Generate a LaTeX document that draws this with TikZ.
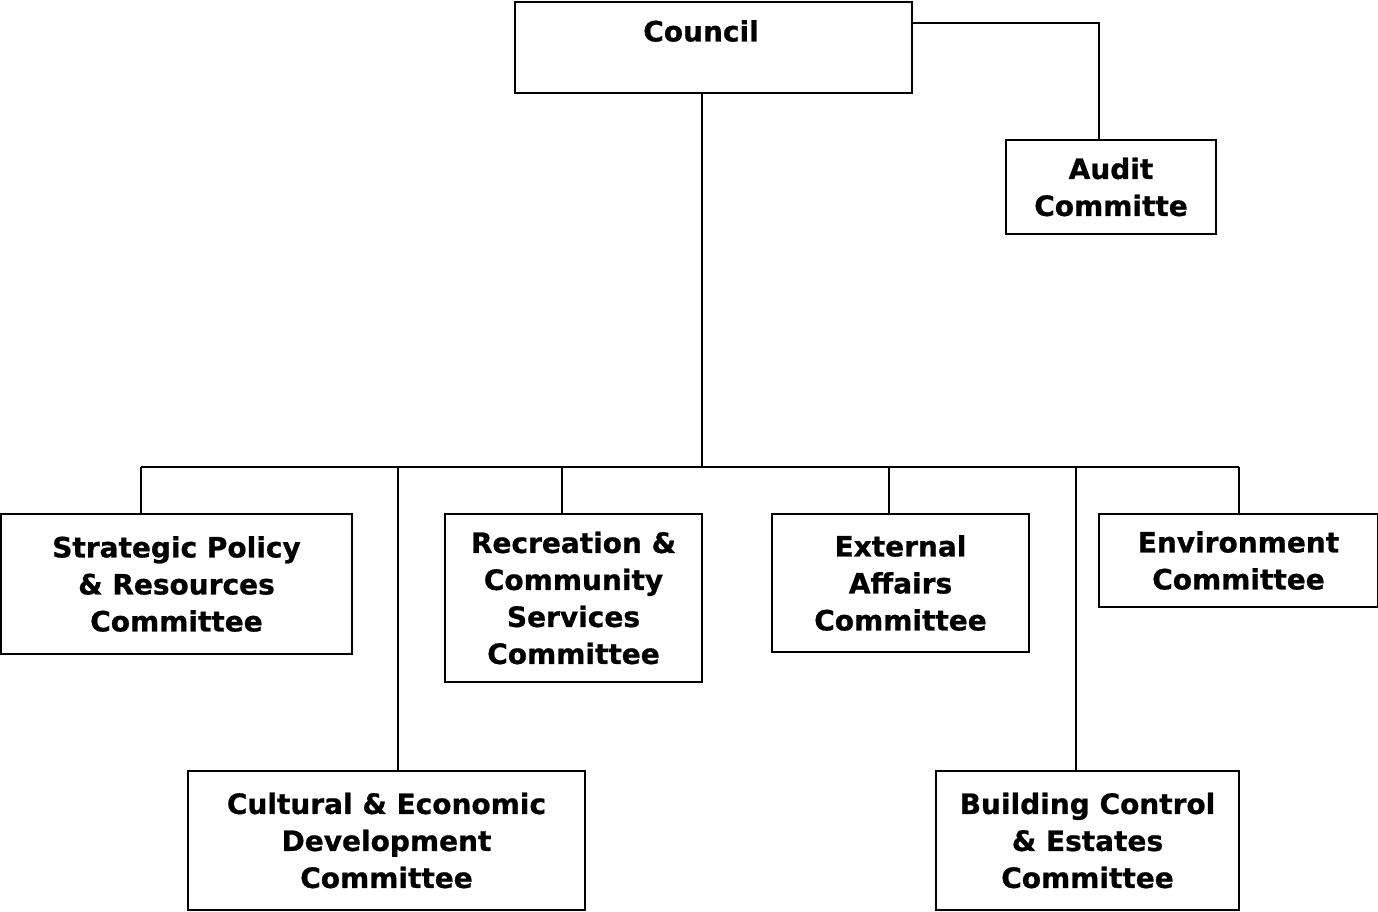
\documentclass[tikz,border=0pt]{standalone}
\usepackage{fontspec}
\setmainfont[BoldFeatures={FakeBold=0.8}]{DejaVu Sans}
\usetikzlibrary{calc}
\begin{document}
\begin{tikzpicture}[x=0.75pt,y=-0.75pt,
  box/.style={draw=black,line width=1.5pt,fill=white,rectangle,inner sep=0pt,
    align=center,font=\fontsize{21}{27.75}\selectfont\bfseries},
  lbl/.style={inner sep=0pt,align=center,font=\fontsize{21}{27.75}\selectfont\bfseries},
  link/.style={draw=black,line width=1.5pt}]
\useasboundingbox (0,0) rectangle (1378,912);

% committee boxes: centre and size in pixels
\node[box,minimum width=397*0.75pt,minimum height=91*0.75pt] (council) at (713.5,47.5) {};
\node[lbl] (counciltext) at (701,31) {Council};
\node[box,minimum width=210*0.75pt,minimum height=94*0.75pt] (audit) at (1111,187) {Audit\\Committe};
\node[box,minimum width=351*0.75pt,minimum height=140*0.75pt] (strat) at (176.5,584) {Strategic Policy\\\& Resources\\Committee};
\node[box,minimum width=257*0.75pt,minimum height=168*0.75pt] (recr) at (573.5,598) {Recreation \&\\Community\\Services\\Committee};
\node[box,minimum width=257*0.75pt,minimum height=138*0.75pt] (ext) at (900.5,583) {External\\Affairs\\Committee};
\node[box,minimum width=279*0.75pt,minimum height=93*0.75pt] (env) at (1238.5,560.5) {Environment\\Committee};
\node[box,minimum width=397*0.75pt,minimum height=139*0.75pt] (cult) at (386.5,840.5) {Cultural \& Economic\\Development\\Committee};
\node[box,minimum width=303*0.75pt,minimum height=139*0.75pt] (build) at (1087.5,840.5) {Building Control\\\& Estates\\Committee};

% bus line and drop points
\coordinate (bus) at (702,467);
\coordinate (d1) at (141,467);
\coordinate (d2) at (398,467);
\coordinate (d3) at (562,467);
\coordinate (d4) at (889,467);
\coordinate (d5) at (1076,467);
\coordinate (d6) at (1239,467);
\coordinate (auditfeed) at (1099,23);

\draw[link] (council.south -| bus) -- (bus);
\draw[link] (d1) -- (d6);
\draw[link] (d1) -- (d1 |- strat.north);
\draw[link] (d2) -- (d2 |- cult.north);
\draw[link] (d3) -- (d3 |- recr.north);
\draw[link] (d4) -- (d4 |- ext.north);
\draw[link] (d5) -- (d5 |- build.north);
\draw[link] (d6) -- (d6 |- env.north);
\draw[link] (auditfeed -| council.east) -- (auditfeed) -- (auditfeed |- audit.north);
\end{tikzpicture}
\end{document}
